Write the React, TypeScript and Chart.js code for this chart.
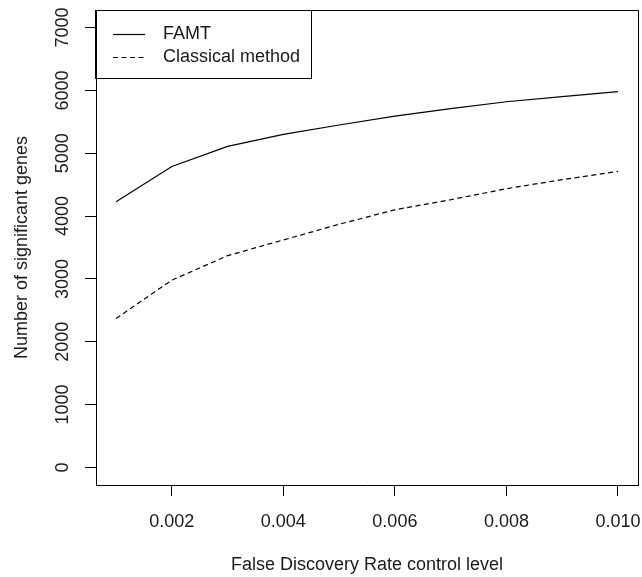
import { useEffect, useRef } from "react";
import { Chart, registerables } from "chart.js";

Chart.register(...registerables);

const fdrLevels = [0.001, 0.002, 0.003, 0.004, 0.005, 0.006, 0.007, 0.008, 0.009, 0.01];
const famtGenes = [4230, 4790, 5110, 5300, 5450, 5590, 5710, 5820, 5900, 5980];
const classicalGenes = [2370, 2980, 3370, 3620, 3870, 4100, 4260, 4436, 4580, 4712];
const seriesLabels = ["FAMT", "Classical method"];
const xTickValues = [0.002, 0.004, 0.006, 0.008, 0.01];
const yTickValues = [0, 1000, 2000, 3000, 4000, 5000, 6000, 7000];
const xTitle = "False Discovery Rate control level";
const yTitle = "Number of significant genes";

const FONT = '"Liberation Sans", Arial, Helvetica, sans-serif';
const INK = "#1a1a1a";

const boxAndLegend = {
  id: "boxAndLegend",
  afterDraw(chart: any) {
    const { ctx, chartArea } = chart;
    const { left, top, right, bottom } = chartArea;
    ctx.save();
    ctx.strokeStyle = "#000";
    ctx.lineWidth = 1;
    ctx.setLineDash([]);
    // top and right of box
    ctx.beginPath();
    ctx.moveTo(Math.round(left) - 0.5, Math.round(top) + 0.5);
    ctx.lineTo(Math.round(right) + 0.5, Math.round(top) + 0.5);
    ctx.lineTo(Math.round(right) + 0.5, Math.round(bottom) + 0.5);
    ctx.stroke();

    // legend
    ctx.font = `18px ${FONT}`;
    const datasets = chart.data.datasets;
    const widths = datasets.map((d: any) => ctx.measureText(d.label).width);
    const rowH = 23;
    const boxW = Math.round(17 + 32 + 18 + Math.max(...widths) + 12);
    const boxH = Math.round(24 + rowH * (datasets.length - 1) + 21);
    const x0 = Math.round(left);
    const y0 = Math.round(top);
    ctx.strokeRect(x0 - 0.5, y0 + 0.5, boxW, boxH);
    datasets.forEach((ds: any, i: number) => {
      const y = y0 + 24 + i * rowH;
      ctx.lineWidth = 1.2;
      ctx.setLineDash(ds.borderDash || []);
      ctx.beginPath();
      ctx.moveTo(x0 + 17, y + 0.5);
      ctx.lineTo(x0 + 49, y + 0.5);
      ctx.stroke();
      ctx.setLineDash([]);
      ctx.fillStyle = INK;
      ctx.textAlign = "left";
      ctx.textBaseline = "middle";
      ctx.fillText(ds.label, x0 + 67, y);
    });
    ctx.restore();
  },
};

export default function App() {
  const canvasRef = useRef<HTMLCanvasElement | null>(null);

  useEffect(() => {
    if (!canvasRef.current) return;
    Chart.defaults.font.family = FONT;
    Chart.defaults.font.size = 18;
    Chart.defaults.color = INK;

    const chart = new Chart(canvasRef.current, {
      type: "line",
      data: {
        datasets: [
          {
            label: seriesLabels[0],
            data: fdrLevels.map((x, i) => ({ x, y: famtGenes[i] })),
            borderColor: "#000",
            borderWidth: 1.2,
            pointRadius: 0,
            tension: 0,
            fill: false,
          },
          {
            label: seriesLabels[1],
            data: fdrLevels.map((x, i) => ({ x, y: classicalGenes[i] })),
            borderColor: "#000",
            borderWidth: 1.2,
            borderDash: [5, 3.5],
            pointRadius: 0,
            tension: 0,
            fill: false,
          },
        ],
      },
      options: {
        responsive: false,
        animation: false,
        layout: { padding: { top: 10, right: 4, left: 0, bottom: 0 } },
        plugins: {
          legend: { display: false },
          tooltip: { enabled: false },
        },
        scales: {
          x: {
            type: "linear",
            min: 0.00064,
            max: 0.01036,
            afterBuildTicks: (scale: any) => {
              scale.ticks = xTickValues.map((v) => ({ value: v }));
            },
            afterFit: (scale: any) => {
              scale.height = 92;
              scale.paddingLeft = 0;
              scale.paddingRight = 0;
            },
            ticks: {
              padding: 15,
              maxRotation: 0,
              minRotation: 0,
              callback: (v: any) => Number(v).toFixed(3),
              font: { size: 18 },
              color: INK,
            },
            grid: {
              display: true,
              drawOnChartArea: false,
              drawTicks: true,
              tickLength: 11,
              color: "#000",
              lineWidth: 1,
            },
            border: { display: true, color: "#000", width: 1 },
            title: {
              display: true,
              text: xTitle,
              font: { size: 18 },
              color: INK,
              padding: { top: 0, bottom: 1 },
            },
          },
          y: {
            type: "linear",
            min: -280,
            max: 7280,
            afterBuildTicks: (scale: any) => {
              scale.ticks = yTickValues.map((v) => ({ value: v }));
            },
            afterFit: (scale: any) => {
              scale.width = 96;
              scale.paddingTop = 0;
              scale.paddingBottom = 0;
            },
            ticks: {
              padding: 2,
              minRotation: 90,
              maxRotation: 90,
              crossAlign: "center",
              callback: (v: any) => String(v),
              font: { size: 18 },
              color: INK,
            },
            grid: {
              display: true,
              drawOnChartArea: false,
              drawTicks: true,
              tickLength: 11,
              color: "#000",
              lineWidth: 1,
            },
            border: { display: true, color: "#000", width: 1 },
            title: {
              display: true,
              text: yTitle,
              font: { size: 18 },
              color: INK,
              padding: { top: 11, bottom: 0 },
            },
          },
        },
      },
      plugins: [boxAndLegend],
    } as any);

    return () => chart.destroy();
  }, []);

  return (
    <div style={{ position: "fixed", left: 0, top: 0, width: 642, height: 577, background: "#fff" }}>
      <canvas ref={canvasRef} width={642} height={577} style={{ display: "block" }} />
    </div>
  );
}
